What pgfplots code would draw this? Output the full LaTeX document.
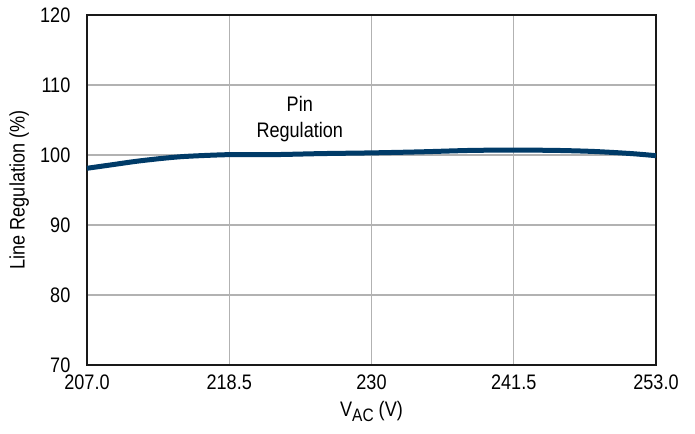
\documentclass[border=0pt]{standalone}
\usepackage{fontspec}
\setmainfont{Liberation Sans}[FakeStretch=0.86]
\usepackage{pgfplots}
\pgfplotsset{compat=1.18}
\definecolor{lineblue}{HTML}{003B68}

\begin{document}
\begin{tikzpicture}
\begin{axis}[
    scale only axis,
    width=284.5pt,
    height=175pt,
    xmin=207, xmax=253,
    ymin=70, ymax=120,
    xtick={207,218.5,230,241.5,253},
    xticklabels={207.0,218.5,230,241.5,253.0},
    ytick={70,80,...,120},
    major tick length=0pt,
    grid=major,
    grid style={gray!60, line width=0.6pt},
    axis line style={black!90, line width=1.1pt},
    tick label style={font=\fontsize{10.5}{12}\selectfont},
    /pgf/number format/assume math mode=true,
    xticklabel style={yshift=-1.4pt},
    yticklabel style={xshift=-4.8pt},
    label style={font=\fontsize{10.5}{12}\selectfont},
    xlabel={V\raisebox{-0.45ex}{\fontsize{9}{10}\selectfont AC} (V)},
    ylabel={Line Regulation (\%)},
    ylabel style={yshift=-1.2pt},
    xlabel style={yshift=1pt},
    clip=false,
]
\addplot[lineblue, line width=2.5pt, smooth] coordinates {
    (207,98.1) (209,98.6) (211,99.1) (213,99.5) (215,99.8) (218.5,100.05)
    (222,100.05) (226,100.2) (230,100.3) (234,100.45) (238,100.65)
    (241.5,100.7) (245,100.65) (248,100.5) (251,100.2) (253,99.9)
};
\node[align=center, font=\fontsize{10.5}{13}\selectfont] at (axis cs:224.2,105.2) {Pin\\Regulation};
\end{axis}
\pgfresetboundingbox
\path[use as bounding box] ([shift={(-43.5pt,-34.5pt)}]current axis.south west)
    rectangle ([shift={(19.5pt,7.5pt)}]current axis.north east);
\end{tikzpicture}
\end{document}
